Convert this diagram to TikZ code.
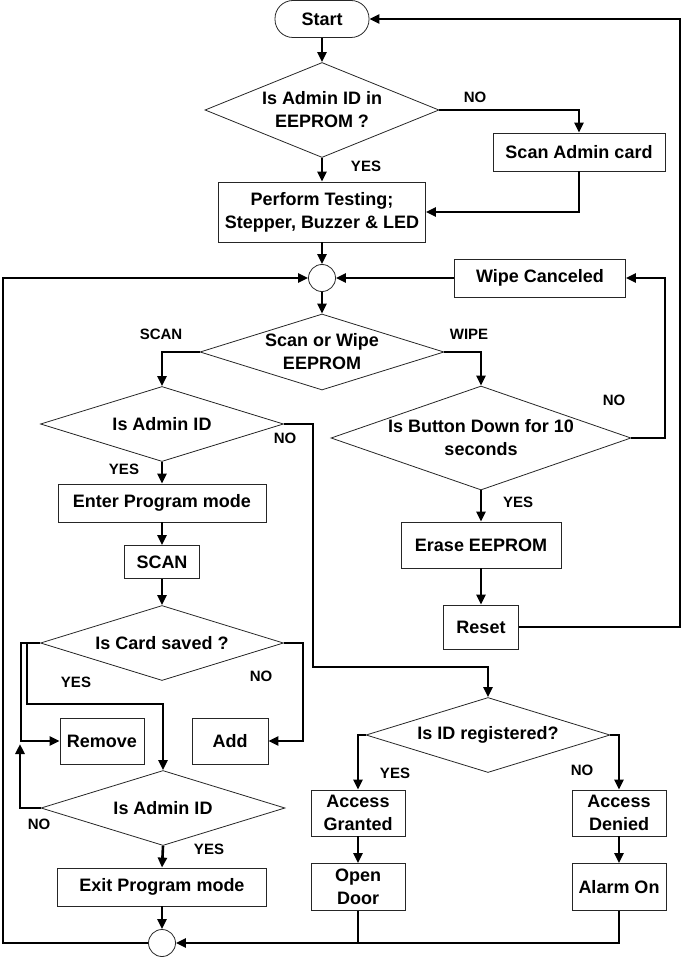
\documentclass[tikz,border=0pt]{standalone}
\usepackage{fontspec}
\setmainfont{Liberation Sans}
\usetikzlibrary{arrows.meta,shapes.geometric}
\begin{document}
\begin{tikzpicture}[x=1pt,y=-1pt,
  every node/.style={font=\fontsize{18}{23}\selectfont\bfseries},
  box/.style={draw=black!85, line width=0.8pt, inner sep=0pt, align=center},
  term/.style={box, rounded corners=18pt},
  dia/.style={diamond, draw=black!85, line width=0.8pt, inner sep=0pt},
  dtxt/.style={align=center, inner sep=0pt},
  conn/.style={line width=2.6pt, -{Triangle[length=10pt,width=9pt]}},
  plainline/.style={line width=2.6pt},
  lbl/.style={font=\fontsize{15}{18}\selectfont\bfseries, inner sep=0pt},
  junc/.style={circle, draw=black!85, line width=0.8pt, minimum size=27pt, inner sep=0pt}]
\useasboundingbox (0,0) rectangle (683,957);

% nodes
\node[term, minimum width=94pt, minimum height=37pt] (start) at (322,19) {Start};
\node[dia, minimum width=234pt, minimum height=95pt, label={[dtxt]center:{Is Admin ID in\\EEPROM ?}}] (d1) at (322,110) {};
\node[box, minimum width=172pt, minimum height=38pt] (scanadm) at (579,152) {Scan Admin card};
\node[box, minimum width=207pt, minimum height=60pt] (perform) at (322,212) {Perform Testing;\\Stepper, Buzzer \& LED};
\node[junc] (c1) at (322,278) {};
\node[box, minimum width=171pt, minimum height=38pt] (wipe) at (540,278) {Wipe Canceled};
\node[dia, minimum width=244pt, minimum height=76pt, label={[dtxt]center:{Scan or Wipe\\EEPROM}}] (d2) at (322,352) {};
\node[dia, minimum width=243pt, minimum height=75pt, label={[dtxt]center:{Is Admin ID}}] (adm1) at (162,424) {};
\node[dia, minimum width=300pt, minimum height=104pt, label={[dtxt]center:{Is Button Down for 10\\seconds}}] (btn) at (481,438) {};
\node[box, minimum width=208pt, minimum height=38pt] (enter) at (162,503) {Enter Program mode};
\node[box, minimum width=75pt, minimum height=33pt] (scanbox) at (162,562) {SCAN};
\node[box, minimum width=160pt, minimum height=46pt] (erase) at (481,545) {Erase EEPROM};
\node[box, minimum width=75pt, minimum height=44pt] (reset) at (481,627) {Reset};
\node[dia, minimum width=243pt, minimum height=75pt, label={[dtxt]center:{Is Card saved ?}}] (card) at (162,643) {};
\node[box, minimum width=84pt, minimum height=46pt] (remove) at (102,741) {Remove};
\node[box, minimum width=76pt, minimum height=46pt] (add) at (230,741) {Add};
\node[dia, minimum width=244pt, minimum height=75pt, label={[dtxt]center:{Is Admin ID}}] (adm2) at (163,808) {};
\node[box, minimum width=209pt, minimum height=38pt] (exit) at (162,887) {Exit Program mode};
\node[dia, minimum width=244pt, minimum height=75pt, label={[dtxt]center:{Is ID registered?}}] (idreg) at (488,735) {};
\node[box, minimum width=94pt, minimum height=46pt] (granted) at (358,813) {Access\\Granted};
\node[box, minimum width=94pt, minimum height=46pt] (denied) at (619,813) {Access\\Denied};
\node[box, minimum width=94pt, minimum height=47pt] (door) at (358,887) {Open\\Door};
\node[box, minimum width=94pt, minimum height=47pt] (alarm) at (619,887) {Alarm On};
\node[junc] (c2) at (162,943) {};

% rails
\coordinate (rrail) at (680,0);
\coordinate (lrail) at (3,0);
\coordinate (brail) at (665,0);
\coordinate (mrail) at (313,667);
\coordinate (yrail) at (21,741);
\coordinate (ybr) at (27,0);
\coordinate (ybr2) at (27,704);
\coordinate (nrail) at (303,0);
\coordinate (nup) at (20,744);

% connectors
\draw[conn] (start) -- (d1);
\draw[conn] (d1.east) -| (scanadm.north);
\draw[conn] (d1.south) -- (perform.north);
\draw[conn] (scanadm.south) |- (perform.east);
\draw[conn] (perform.south) -- (c1.north);
\draw[conn] (c1.south) -- (d2.north);
\draw[conn] (wipe.west) -- (c1.east);
\draw[conn] (d2.west) -| (adm1.north);
\draw[conn] (d2.east) -| (btn.north);
\draw[conn] (btn.east) -- (btn.east -| brail) |- (wipe.east);
\draw[conn] (btn.south) -- (erase.north);
\draw[conn] (erase.south) -- (reset.north);
\draw[conn] (reset.east) -- (reset.east -| rrail) |- (start.east);
\draw[conn] (adm1.east) -| (mrail) -| (idreg.north);
\draw[conn] (adm1.south) -- (enter.north);
\draw[conn] (enter.south) -- (scanbox.north);
\draw[conn] (scanbox.south) -- (card.north);
\draw[conn] (card.west) -| (yrail) -- (remove.west);
\draw[conn] (card.west -| ybr) -- (ybr2) -| (adm2.north);
\draw[conn] (card.east) -- (card.east -| nrail) |- (add.east);
\draw[conn] (adm2.west) -| (nup);
\draw[conn] (adm2.south) -- (exit.north);
\draw[conn] (exit.south) -- (c2.north);
\draw[conn] (c2.west) -- (c2.west -| lrail) |- (c1.west);
\draw[conn] (idreg.west) -| (granted.north);
\draw[conn] (idreg.east) -| (denied.north);
\draw[conn] (granted.south) -- (door.north);
\draw[conn] (denied.south) -- (alarm.north);
\draw[plainline] (door.south) -- (door.south |- c2.east);
\draw[conn] (alarm.south) |- (c2.east);

% labels
\node[lbl] (l1) at (475,97) {NO};
\node[lbl] (l2) at (366,166) {YES};
\node[lbl] (l3) at (161,334) {SCAN};
\node[lbl] (l4) at (469,334) {WIPE};
\node[lbl] (l5) at (614,400) {NO};
\node[lbl] (l6) at (285,438) {NO};
\node[lbl] (l7) at (124,469) {YES};
\node[lbl] (l8) at (518,502) {YES};
\node[lbl] (l9) at (76,682) {YES};
\node[lbl] (l10) at (261,676) {NO};
\node[lbl] (l11) at (39,824) {NO};
\node[lbl] (l12) at (209,849) {YES};
\node[lbl] (l13) at (395,773) {YES};
\node[lbl] (l14) at (582,770) {NO};
\end{tikzpicture}
\end{document}
